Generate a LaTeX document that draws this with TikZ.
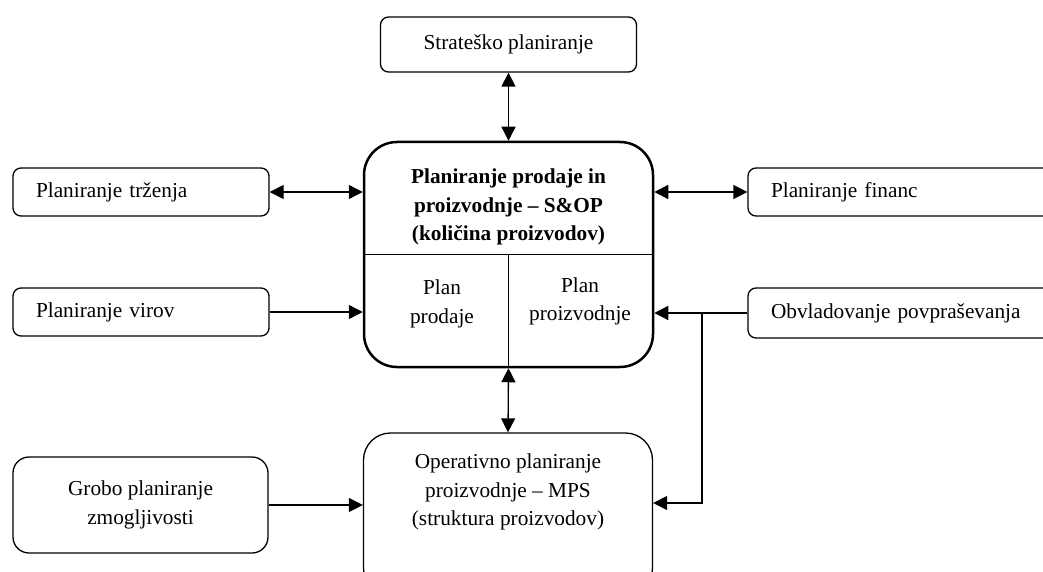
\documentclass[tikz,border=0pt]{standalone}
\usepackage{fontspec}
\setmainfont{Liberation Serif}
\usetikzlibrary{arrows.meta}
\begin{document}
\begin{tikzpicture}[x=1pt,y=-1pt,
  every node/.style={font=\fontsize{21.3}{28.4}\selectfont},
  box/.style={draw, line width=1.3pt, rounded corners=8pt, inner sep=0pt},
  lbox/.style={box, align=left, inner xsep=23pt},
  cbox/.style={box, align=center},
  lbl/.style={inner sep=0pt, align=center},
  tip/.tip={Triangle[length=14pt,width=14pt]},
  conn/.style={line width=1.3pt, -tip},
  biconn/.style={line width=1.3pt, tip-tip},
]
\useasboundingbox (0,0) rectangle (1043,572);
\clip (0,0) rectangle (1043,572);

% top
\node[cbox, minimum width=256pt, minimum height=55pt] (strat) at (508.5,44.5) {Strateško planiranje};

% central S&OP block
\node[draw, line width=2.5pt, rounded corners=33pt, minimum width=289pt,
      minimum height=225pt, inner sep=0pt] (sop) at (508.5,254.5) {};
\draw[line width=1.4pt] (sop.west) -- (sop.east);
\draw[line width=1.4pt] (sop.center) -- (sop.south);
\node[lbl] (soptitle) at (508.5,207)
  {\bfseries Planiranje prodaje in\\ \bfseries proizvodnje – S\&OP\\ \bfseries (količina proizvodov)};
\node[lbl] (pprod) at (442,304) {Plan\\prodaje};
\node[lbl] (pproiz) at (580,301.5) {Plan\\proizvodnje};

% left side
\node[lbox, text width=210pt, minimum height=48pt] (trz) at (141,192) {Planiranje trženja};
\node[lbox, text width=210pt, minimum height=48pt] (virov) at (141,312) {Planiranje virov};
\node[cbox, rounded corners=16pt, minimum width=255pt, minimum height=96pt] (grobo) at (140.5,505)
  {Grobo planiranje\\zmogljivosti};

% right side
\node[lbox, text width=276pt, minimum height=48pt] (fin) at (909,192) {Planiranje financ};
\node[lbox, text width=276pt, minimum height=50pt] (obv) at (909,313) {Obvladovanje povpraševanja};

% bottom MPS block
\node[box, rounded corners=27pt, minimum width=289pt, minimum height=162pt] (mps) at (508,514) {};
\node[lbl] (mpstext) at (508,492)
  {Operativno planiranje\\proizvodnje – MPS\\(struktura proizvodov)};

% connectors
\draw[biconn] (strat.south) -- (sop.north);
\draw[biconn] (trz.east) -- (sop.west |- trz.east);
\draw[conn] (virov.east) -- (sop.west |- virov.east);
\draw[biconn] (sop.east |- fin.west) -- (fin.west);
\draw[conn] (obv.west) -- (sop.east |- obv.west);
\coordinate (junc) at (702,313);
\draw[conn] (junc) |- (mps.east |- 0,503);
\draw[conn] (grobo.east) -- (mps.west |- grobo.east);
\draw[biconn] (sop.south) -- (mps.north);
\end{tikzpicture}
\end{document}
